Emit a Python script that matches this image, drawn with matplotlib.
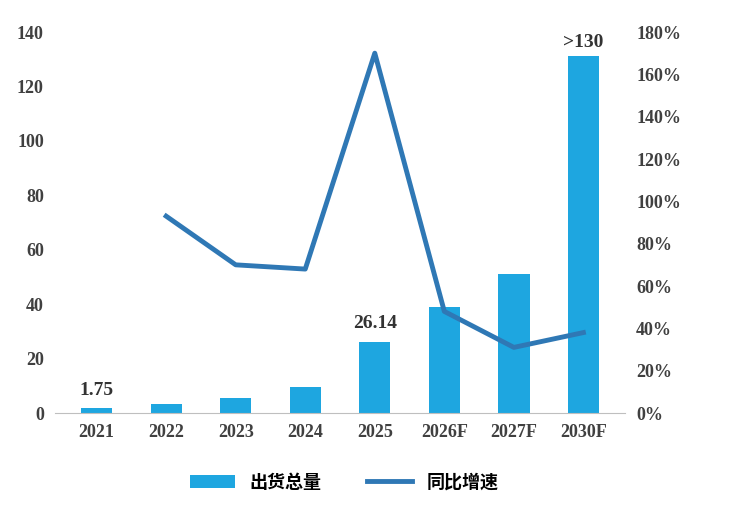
import numpy as np
import matplotlib.pyplot as plt
from matplotlib.ticker import FuncFormatter

years = ["2021", "2022", "2023", "2024", "2025", "2026F", "2027F", "2030F"]
shipments = [1.75, 3.4, 5.5, 9.5, 26.14, 39, 51, 131]
growth = [None, 93, 70, 68, 170, 48, 31, 38]

plt.rcParams['font.family'] = ['Liberation Serif', 'Noto Sans CJK SC']
plt.rcParams['font.weight'] = 'bold'

fig = plt.figure(figsize=(7.32, 5.08), dpi=100)
ax = fig.add_axes([0.075, 0.187, 0.779, 0.75])
x = np.arange(len(years))
bar_color = "#1ea6e0"
line_color = "#2f78b5"
ax.bar(x, shipments, width=0.45, color=bar_color, label="出货总量")
ax.set_ylim(0, 140)
ax.set_yticks(range(0, 141, 20))
ax.set_xlim(-0.6, len(years) - 0.4)
ax.set_xticks(x)
ax.set_xticklabels(years)
for s in ["top", "right", "left"]:
    ax.spines[s].set_visible(False)
ax.spines["bottom"].set_color("#bfbfbf")
ax.tick_params(length=0, labelsize=13, colors="#404040", pad=8)

ax2 = ax.twinx()
gx = [i for i, g in zip(x, growth) if g is not None]
gy = [g for g in growth if g is not None]
ax2.plot(gx, gy, color=line_color, lw=3.5, label="同比增速")
ax2.set_ylim(0, 180)
ax2.set_yticks(range(0, 181, 20))
ax2.yaxis.set_major_formatter(FuncFormatter(lambda v, p: f"{int(v)}%"))
for s in ax2.spines.values():
    s.set_visible(False)
ax2.tick_params(length=0, labelsize=13, colors="#404040", pad=8)

ax.text(0, shipments[0] + 5, "1.75", ha="center", fontsize=14, color="#333333")
ax.text(4, shipments[4] + 5, "26.14", ha="center", fontsize=14, color="#333333")
ax.text(7, shipments[7] + 2, ">130", ha="center", va="bottom", fontsize=14,
        color="#333333")

h1, l1 = ax.get_legend_handles_labels()
h2, l2 = ax2.get_legend_handles_labels()
fig.legend(h1 + h2, l1 + l2, loc="lower center", bbox_to_anchor=(0.47, 0.0),
           ncol=2, frameon=False, prop={'family': 'Noto Sans CJK SC', 'size': 13, 'weight': 'bold'},
           handlelength=2.5, columnspacing=2.5)

fig.savefig("out.png")
